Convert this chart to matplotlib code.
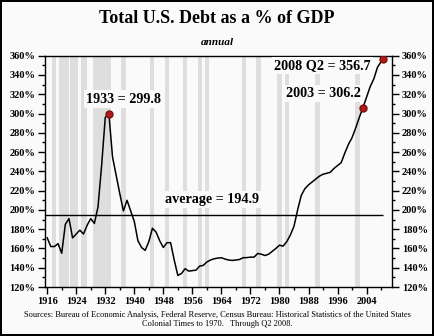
import matplotlib
matplotlib.use("Agg")
import matplotlib.pyplot as plt
from matplotlib.ticker import MultipleLocator, FixedLocator

# 年次データ
years = list(range(1916, 2008)) + [2008.5]
debt = [171, 162, 162, 165, 155, 185, 191, 171, 175, 179,
        175, 184, 191, 186, 203, 246, 296, 299.8, 255, 236,
        217, 199, 210, 199, 188, 168, 161, 158, 167, 181,
        177, 168, 161, 166, 166, 148, 132, 134, 139, 136.5,
        137, 137.5, 141.7, 142.4, 146, 148, 149.3, 150, 150.4, 149,
        148, 147.6, 148, 148.6, 150.4, 150.5, 151, 151, 154.8, 154,
        152.7, 154, 157, 160, 163.4, 162.4, 167, 174, 183, 200,
        215, 222, 226, 229, 232, 235, 237, 238, 239, 243,
        246, 249, 259, 268, 275, 285, 296, 306.2, 317, 328,
        336, 348, 356.7]

# 景気後退期（グレーの帯）
rec_start = [1917.3, 1919.2, 1922.4, 1925.2, 1928.5, 1936.4, 1944.3, 1948.4, 1953.5,
             1957.6, 1959.4, 1969.6, 1973.5, 1979.2, 1981.5, 1989.7, 2000.8]
rec_end = [1918.4, 1922.0, 1924.4, 1927.1, 1933.7, 1937.6, 1945.5, 1949.6, 1954.6,
           1958.7, 1960.6, 1970.7, 1974.8, 1980.6, 1982.7, 1991.1, 2002.2]

average = 194.9
point_years = [1933, 2003, 2008.5]
point_vals = [299.8, 306.2, 356.7]

x_ticks = list(range(1916, 2008, 8))
y_ticks = list(range(120, 361, 20))

serif = "Liberation Serif"
bg = "#fafafa"

fig = plt.figure(figsize=(4.34, 3.36), dpi=100, facecolor=bg,
                 edgecolor="black", linewidth=1.5)
ax = fig.add_axes([0.1037, 0.1458, 0.7995, 0.6884])
ax.set_facecolor(bg)

for s, e in zip(rec_start, rec_end):
    ax.axvspan(s, e, facecolor="#dedede", linewidth=0, zorder=0)

ax.hlines(average, 1915.4, 2008.5, color="black", linewidth=1, zorder=2)
ax.plot(years, debt, color="black", linewidth=1.1, zorder=3)
ax.plot(point_years, point_vals, "o", color="#b01c1c", markeredgecolor="#7a1010",
        markersize=5, zorder=5)

box = dict(facecolor=bg, edgecolor="none", pad=1.5)
ax.text(1937.0, 315, "1933 = 299.8", family=serif, fontweight="bold", fontsize=10.2,
        ha="center", va="center", bbox=box, zorder=4)
ax.text(1991.8, 349.5, "2008 Q2 = 356.7", family=serif, fontweight="bold", fontsize=10.2,
        ha="center", va="center", bbox=box, zorder=4)
ax.text(1992.0, 321, "2003 = 306.2", family=serif, fontweight="bold", fontsize=10.2,
        ha="center", va="center", bbox=box, zorder=4)
ax.text(1961.5, 211, "average = 194.9", family=serif, fontweight="bold", fontsize=10.2,
        ha="center", va="center", bbox=box, zorder=4)

ax.set_xlim(1915.4, 2011)
ax.set_ylim(120, 360)
ax.xaxis.set_major_locator(FixedLocator(x_ticks))
ax.xaxis.set_minor_locator(FixedLocator(list(range(1920, 2010, 8))))
ax.set_xticklabels([str(y) for y in x_ticks])
ax.yaxis.set_major_locator(FixedLocator(y_ticks))
ax.yaxis.set_minor_locator(MultipleLocator(10))
ax.set_yticklabels([f"{y}%" for y in y_ticks])
ax.tick_params(which="both", direction="out", right=True, labelright=True,
               top=False, width=1, labelsize=7.5, pad=2)
ax.tick_params(which="major", length=5)
ax.tick_params(which="minor", length=2.5)
for lab in ax.get_xticklabels() + ax.get_yticklabels():
    lab.set_family(serif)
    lab.set_fontweight("bold")
for sp in ax.spines.values():
    sp.set_linewidth(1)

fig.text(0.5, 0.945, "Total U.S. Debt as a % of GDP", family=serif, fontweight="bold",
         fontsize=13, ha="center", va="center")
fig.text(0.5, 0.873, "annual", family=serif, fontweight="bold", style="italic",
         fontsize=8, ha="center", va="center")
fig.text(0.5, 0.05, "Sources: Bureau of Economic Analysis, Federal Reserve, Census Bureau: "
         "Historical Statistics of the United States\nColonial Times to 1970.   Through Q2 2008.",
         family=serif, fontsize=6, ha="center", va="center", linespacing=1.1)

fig.savefig("out.png", dpi=100, facecolor=bg, edgecolor="black")
